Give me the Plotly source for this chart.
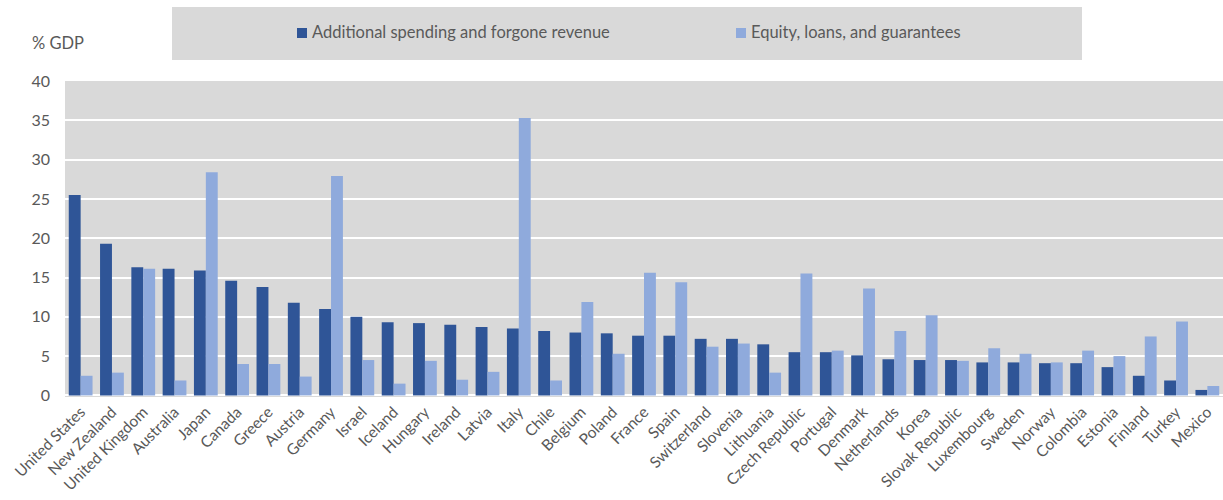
import plotly.graph_objects as go

countries = [
    "United States", "New Zealand", "United Kingdom", "Australia", "Japan",
    "Canada", "Greece", "Austria", "Germany", "Israel", "Iceland", "Hungary",
    "Ireland", "Latvia", "Italy", "Chile", "Belgium", "Poland", "France",
    "Spain", "Switzerland", "Slovenia", "Lithuania", "Czech Republic",
    "Portugal", "Denmark", "Netherlands", "Korea", "Slovak Republic",
    "Luxembourg", "Sweden", "Norway", "Colombia", "Estonia", "Finland",
    "Turkey", "Mexico",
]

spending_revenue = [
    25.5, 19.3, 16.3, 16.1, 15.9, 14.6, 13.8, 11.8, 11.0, 10.0, 9.3, 9.2,
    9.0, 8.7, 8.5, 8.2, 8.0, 7.9, 7.6, 7.6, 7.2, 7.2, 6.5, 5.5, 5.5, 5.1,
    4.6, 4.5, 4.5, 4.2, 4.2, 4.1, 4.1, 3.6, 2.5, 1.9, 0.7,
]

equity_loans = [
    2.5, 2.9, 16.1, 1.9, 28.4, 4.0, 4.0, 2.4, 27.9, 4.5, 1.5, 4.4, 2.0,
    3.0, 35.3, 1.9, 11.9, 5.3, 15.6, 14.4, 6.2, 6.6, 2.9, 15.5, 5.7, 13.6,
    8.2, 10.2, 4.4, 6.0, 5.3, 4.2, 5.7, 5.0, 7.5, 9.4, 1.2,
]

series_names = ["Additional spending and forgone revenue", "Equity, loans, and guarantees"]
y_ticks = [0, 5, 10, 15, 20, 25, 30, 35, 40]

DARK = "#2F5597"
LIGHT = "#8FAADC"
PANEL = "#D9D9D9"
TEXT = "#595959"
FONT = "Lato"

fig = go.Figure()
fig.add_trace(go.Bar(x=countries, y=spending_revenue, name=series_names[0],
                     marker=dict(color=DARK, line=dict(width=0))))
fig.add_trace(go.Bar(x=countries, y=equity_loans, name=series_names[1],
                     marker=dict(color=LIGHT, line=dict(width=0))))

fig.update_layout(
    width=1223, height=500,
    margin=dict(l=65, r=0, t=81, b=103),
    paper_bgcolor="white",
    plot_bgcolor=PANEL,
    barmode="group",
    bargap=0.24,
    bargroupgap=0,
    showlegend=False,
    font=dict(family=FONT, size=16, color=TEXT),
)

fig.update_yaxes(
    range=[-0.2, 40], tickvals=y_ticks, ticktext=[str(v) for v in y_ticks],
    showgrid=True, gridcolor="white", gridwidth=2, zeroline=False,
    showline=False, ticks="", ticklabelstandoff=14, automargin=False,
    tickfont=dict(family=FONT, size=16, color=TEXT),
)
fig.update_xaxes(
    tickangle=-45, showgrid=False, showline=False, ticks="",
    ticklabelstandoff=2, automargin=False,
    tickfont=dict(family=FONT, size=15.5, color=TEXT),
)

# axis unit label
fig.add_annotation(text="% GDP", xref="paper", yref="paper", x=(30 - 65) / 1158,
                   y=1 + (81 - 43) / 316, xanchor="left", yanchor="middle",
                   showarrow=False, font=dict(family=FONT, size=16.5, color=TEXT))

# legend panel drawn at the top of the figure
fig.add_shape(type="rect", xref="paper", yref="paper",
              x0=(172 - 65) / 1158, x1=(1082 - 65) / 1158,
              y0=1 + (81 - 60) / 316, y1=1 + (81 - 7) / 316,
              fillcolor=PANEL, line=dict(width=0), layer="below")
legend_items = [(297, series_names[0], DARK), (736, series_names[1], LIGHT)]
for px, label, color in legend_items:
    fig.add_shape(type="rect", xref="paper", yref="paper",
                  x0=(px - 65) / 1158, x1=(px + 10 - 65) / 1158,
                  y0=1 + (81 - 38) / 316, y1=1 + (81 - 28) / 316,
                  fillcolor=color, line=dict(width=0))
    fig.add_annotation(text=label, xref="paper", yref="paper",
                       x=(px + 13 - 65) / 1158, y=1 + (81 - 32) / 316,
                       xanchor="left", yanchor="middle", showarrow=False,
                       font=dict(family=FONT, size=16.5, color=TEXT))

fig.write_html("out.html")
